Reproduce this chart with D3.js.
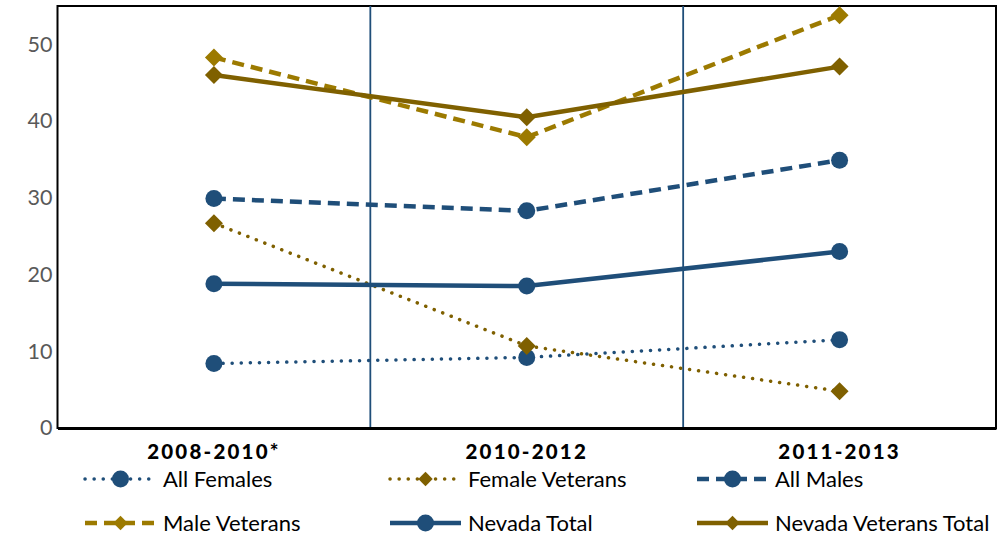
<!DOCTYPE html>
<html>
<head>
<meta charset="utf-8">
<script src="https://cdn.jsdelivr.net/npm/d3@7/dist/d3.min.js"></script>
<style>
  body { margin: 0; background: #fff; }
  svg { display: block; font-family: Lato, "Open Sans", sans-serif; }
</style>
</head>
<body>
<svg id="chart" width="998" height="537"></svg>
<script>
// Period labels along the x axis
const periods = ["2008-2010*", "2010-2012", "2011-2013"];
const yTicks = [0, 10, 20, 30, 40, 50];

// Rates per period for each group
const allFemales = [8.4, 9.2, 11.5];
const femaleVeterans = [26.7, 10.7, 4.8];
const allMales = [29.9, 28.3, 34.9];
const maleVeterans = [48.3, 37.9, 53.8];
const nevadaTotal = [18.8, 18.5, 23.0];
const nevadaVeteransTotal = [46.0, 40.5, 47.1];

const BLUE = "#1F4E79", GOLD = "#9C7A00", DARK_GOLD = "#7F6000";

const series = [
  { name: "All Females", values: allFemales, color: BLUE, dash: "0.1 9", cap: "round", width: 3.5, marker: "circle" },
  { name: "Female Veterans", values: femaleVeterans, color: DARK_GOLD, dash: "0.1 9", cap: "round", width: 3.5, marker: "diamond" },
  { name: "All Males", values: allMales, color: BLUE, dash: "12 7", cap: "butt", width: 4.5, marker: "circle" },
  { name: "Male Veterans", values: maleVeterans, color: GOLD, dash: "12 7", cap: "butt", width: 4.5, marker: "diamond" },
  { name: "Nevada Total", values: nevadaTotal, color: BLUE, dash: null, cap: "butt", width: 4.5, marker: "circle" },
  { name: "Nevada Veterans Total", values: nevadaVeteransTotal, color: DARK_GOLD, dash: null, cap: "butt", width: 4.5, marker: "diamond" }
];

const svg = d3.select("#chart");
const m = { left: 57.5, right: 996, top: 6, bottom: 428 };

const x = d3.scaleBand().domain(periods).range([m.left, m.right]).padding(0);
const y = d3.scaleLinear().domain([0, 55]).range([m.bottom, m.top]);
const cx = d => x(d) + x.bandwidth() / 2;

// Frame
svg.append("rect")
  .attr("x", m.left).attr("y", m.top)
  .attr("width", m.right - m.left).attr("height", m.bottom - m.top)
  .attr("fill", "none").attr("stroke", "#000").attr("stroke-width", 2);

// Separators between periods
periods.slice(1).forEach(p => {
  svg.append("line")
    .attr("x1", x(p)).attr("x2", x(p))
    .attr("y1", m.top).attr("y2", m.bottom)
    .attr("stroke", BLUE).attr("stroke-width", 1.8);
});

// Y axis labels
const yAxis = svg.append("g")
  .attr("transform", `translate(${m.left},0)`)
  .call(d3.axisLeft(y).tickValues(yTicks).tickSize(0).tickPadding(5));
yAxis.select(".domain").remove();
yAxis.selectAll("text")
  .attr("font-size", 21.5).attr("fill", "#595959")
  .attr("font-family", "Lato, sans-serif");

// X axis line and labels
const xAxis = svg.append("g")
  .attr("transform", `translate(0,${m.bottom})`)
  .call(d3.axisBottom(x).tickSize(0).tickPadding(16));
xAxis.select(".domain").attr("stroke", "#000").attr("stroke-width", 3);
xAxis.selectAll("text")
  .attr("font-size", 20.5).attr("font-weight", 900).attr("fill", "#000")
  .attr("letter-spacing", "2.2px")
  .attr("font-family", "Lato, sans-serif");

const line = d3.line().x((d, i) => cx(periods[i])).y(d => y(d));

function drawMarker(g, type, px, py, color, scale) {
  const s = scale || 1;
  if (type === "circle") {
    g.append("circle").attr("cx", px).attr("cy", py).attr("r", 8.5 * s).attr("fill", color);
  } else {
    const r = 9 * s;
    g.append("path")
      .attr("d", `M${px},${py - r}L${px + r},${py}L${px},${py + r}L${px - r},${py}Z`)
      .attr("fill", color);
  }
}

// Lines, drawn in legend order so the later series sit on top
series.forEach(s => {
  const g = svg.append("g");
  g.append("path")
    .attr("d", line(s.values))
    .attr("fill", "none").attr("stroke", s.color)
    .attr("stroke-width", s.width)
    .attr("stroke-linecap", s.cap)
    .attr("stroke-dasharray", s.dash);
  s.values.forEach((v, i) => drawMarker(g, s.marker, cx(periods[i]), y(v), s.color));
});

// Legend
const legendCols = [85, 390, 697];
const legendRows = [479, 523];
series.forEach((s, i) => {
  const lx = legendCols[i % 3], ly = legendRows[Math.floor(i / 3)];
  const g = svg.append("g");
  g.append("line")
    .attr("x1", lx).attr("x2", lx + 71).attr("y1", ly).attr("y2", ly)
    .attr("stroke", s.color).attr("stroke-width", s.width)
    .attr("stroke-linecap", s.cap).attr("stroke-dasharray", s.dash);
  drawMarker(g, s.marker, lx + 35.5, ly, s.color, s.marker === "circle" ? 1 : 0.8);
  g.append("text")
    .attr("x", lx + 78).attr("y", ly).attr("dy", "0.35em")
    .attr("font-size", 22).attr("fill", "#000")
    .text(s.name);
});
</script>
</body>
</html>
